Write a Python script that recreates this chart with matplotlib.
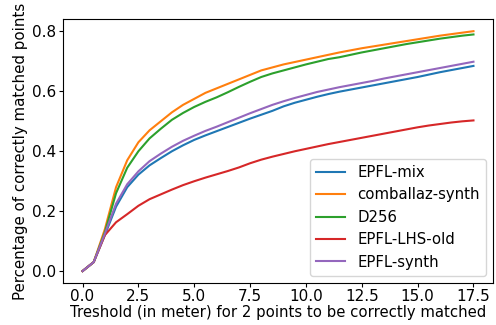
import matplotlib
matplotlib.use("Agg")
import matplotlib.pyplot as plt
import numpy as np

thresholds = [i * 0.5 for i in range(36)]

epfl_mix = [0, 0.03, 0.12, 0.215, 0.28, 0.322, 0.353, 0.377, 0.40, 0.42, 0.438, 0.453,
            0.467, 0.481, 0.495, 0.509, 0.522, 0.535, 0.55, 0.562, 0.572, 0.582, 0.591,
            0.599, 0.606, 0.613, 0.62, 0.627, 0.634, 0.641, 0.648, 0.656, 0.664, 0.671,
            0.678, 0.685]
comballaz_synth = [0, 0.03, 0.14, 0.28, 0.37, 0.43, 0.47, 0.50, 0.53, 0.555, 0.575, 0.595,
                   0.61, 0.625, 0.64, 0.655, 0.67, 0.68, 0.69, 0.698, 0.706, 0.714, 0.722,
                   0.73, 0.737, 0.744, 0.75, 0.756, 0.762, 0.768, 0.774, 0.78, 0.786, 0.791,
                   0.796, 0.801]
d256 = [0, 0.03, 0.13, 0.26, 0.345, 0.40, 0.443, 0.475, 0.505, 0.528, 0.548, 0.565,
        0.58, 0.597, 0.615, 0.632, 0.648, 0.66, 0.67, 0.68, 0.69, 0.699, 0.708,
        0.714, 0.722, 0.73, 0.737, 0.744, 0.751, 0.758, 0.764, 0.77, 0.776, 0.781,
        0.786, 0.79]
epfl_lhs_old = [0, 0.03, 0.12, 0.163, 0.19, 0.218, 0.24, 0.256, 0.272, 0.287, 0.30, 0.312,
                0.323, 0.334, 0.346, 0.36, 0.372, 0.382, 0.391, 0.40, 0.408, 0.416, 0.424,
                0.431, 0.438, 0.445, 0.452, 0.459, 0.466, 0.473, 0.48, 0.486, 0.491, 0.496,
                0.50, 0.503]
epfl_synth = [0, 0.03, 0.125, 0.225, 0.29, 0.333, 0.367, 0.392, 0.415, 0.435, 0.452, 0.468,
              0.482, 0.497, 0.512, 0.527, 0.541, 0.555, 0.567, 0.578, 0.588, 0.598, 0.606,
              0.614, 0.621, 0.628, 0.635, 0.643, 0.65, 0.657, 0.664, 0.671, 0.678, 0.685,
              0.692, 0.699]

series = [("EPFL-mix", epfl_mix), ("comballaz-synth", comballaz_synth), ("D256", d256),
          ("EPFL-LHS-old", epfl_lhs_old), ("EPFL-synth", epfl_synth)]

fig = plt.figure(figsize=(4.96, 3.25), dpi=100)
ax = fig.add_axes([0.127, 0.129, 0.867, 0.812])
for name, vals in series:
    ax.plot(thresholds, vals, label=name, linewidth=1.5)

ax.set_xticks([0, 2.5, 5, 7.5, 10, 12.5, 15, 17.5])
ax.set_yticks([0.0, 0.2, 0.4, 0.6, 0.8])
ax.tick_params(labelsize=11, length=3, pad=1.6)
ax.set_xlabel("Treshold (in meter) for 2 points to be correctly matched", fontsize=10.7)
ax.set_ylabel("Percentage of correctly matched points", fontsize=10.8)
ax.xaxis.set_label_coords(0.5, -0.083)
ax.yaxis.set_label_coords(-0.082, 0.5)
ax.legend(loc="lower right", fontsize=10.7)
fig.savefig("out.png", dpi=100)
